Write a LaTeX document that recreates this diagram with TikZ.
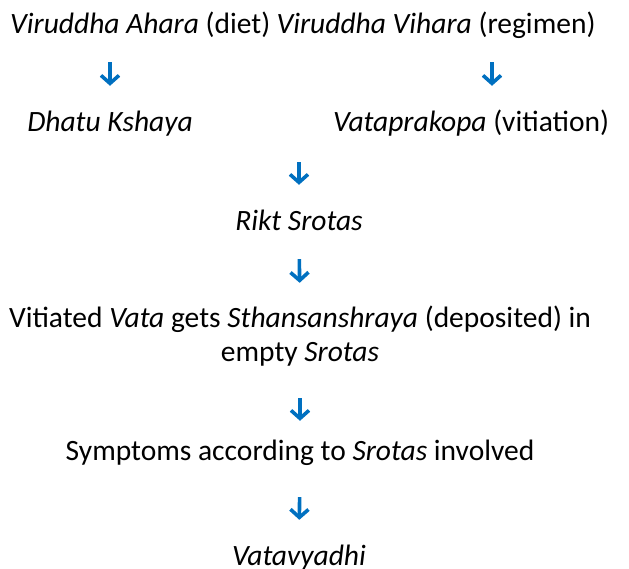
\documentclass[tikz,border=0pt]{standalone}
\usepackage{fontspec}
\setmainfont{Carlito}
\usepackage{xcolor}
\usepackage{tikz}
\usetikzlibrary{positioning,arrows.meta}
\definecolor{arrowblue}{RGB}{0,112,192}
\begin{document}
\begin{tikzpicture}[x=1pt,y=1pt,
label/.style={font=\fontsize{29.5}{36}\selectfont,inner sep=0pt,
text height=19pt,text depth=6pt,anchor=base},
flow/.style={draw=arrowblue,line width=3.6pt,
-{Straight Barb[length=8pt,width=18pt]}}]
    \useasboundingbox (0,0) rectangle (629,-569);
    \node[label,anchor=base west] (Node ahara) at (10,-34) {\textit{Viruddha Ahara} (diet)};
    \node[label,anchor=base west] (Node vihara) at ([xshift=6pt]Node ahara.base east) {\textit{Viruddha Vihara} (regimen)};
    \node[label] (Node dhatu) at (110,-132) {\textit{Dhatu Kshaya}};
    \node[label,anchor=base west] (Node prakopa) at (333,-132) {\textit{Vataprakopa} (vitiation)};
    \node[label] (Node rikt) at (299,-231) {\textit{Rikt Srotas}};
    \node[label] (Node vitiated) at (300,-327) {Vitiated \textit{Vata} gets \textit{Sthansanshraya} (deposited) in};
    \node[label] (Node empty) at (300,-361) {empty \textit{Srotas}};
    \node[label] (Node symptoms) at (300,-460) {Symptoms according to \textit{Srotas} involved};
    \node[label] (Node vatavyadhi) at (299,-565) {\textit{Vatavyadhi}};
    \coordinate (right col) at (492,0);
    \draw[flow,shorten <=22pt,shorten >=27pt] (Node dhatu |- Node ahara.south) to (Node dhatu.north);
    \draw[flow,shorten <=22pt,shorten >=27pt] (right col |- Node vihara.south) to (right col |- Node prakopa.north);
    \draw[flow,shorten <=24pt,shorten >=27pt] (Node rikt |- Node dhatu.south) to (Node rikt.north);
    \draw[flow,shorten <=22pt,shorten >=25pt] (Node rikt.south) to (Node vitiated.north);
    \draw[flow,shorten <=31pt,shorten >=20pt] (Node empty.south) to (Node symptoms.north);
    \draw[flow,shorten <=31pt,shorten >=26pt] (Node symptoms.south) to (Node vatavyadhi.north);
\end{tikzpicture}
\end{document}
